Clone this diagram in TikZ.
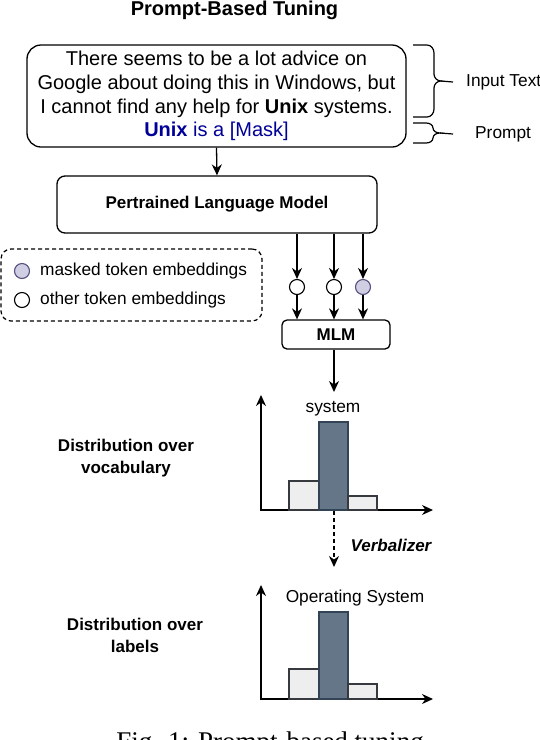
\documentclass[tikz,border=0pt]{standalone}
\usepackage{xcolor}
\usepackage{fontspec}
\setmainfont{Liberation Sans}
\newfontfamily\capfont{Liberation Serif}
\usetikzlibrary{arrows.meta,positioning}

\definecolor{promptblue}{RGB}{0,0,153}
\definecolor{barfill}{HTML}{647687}
\definecolor{barline}{HTML}{314354}
\definecolor{lowfill}{HTML}{EEEEEE}
\definecolor{lowline}{HTML}{36393D}
\definecolor{maskfill}{HTML}{D0CEE2}
\definecolor{maskline}{HTML}{56517E}

\begin{document}
\begin{tikzpicture}[x=1pt, y=-1pt,
  txt/.style={font=\fontsize{17.3}{20}\selectfont, inner sep=0pt},
  heading/.style={font=\fontsize{17}{22}\selectfont\bfseries, align=center, inner sep=0pt},
  block/.style={draw, line width=1.3pt, rounded corners=8pt},
  token/.style={circle, draw, line width=1.1pt, minimum size=15pt, inner sep=0pt, fill=white},
  masked/.style={token, fill=maskfill, draw=maskline},
  arr/.style={-{Stealth[length=11pt,width=10pt]}, line width=1.3pt},
  axisline/.style={{Stealth[length=11pt,width=10pt]}-{Stealth[length=11pt,width=10pt]}, line width=1.2pt},
  lowbar/.style={fill=lowfill, draw=lowline, line width=1.7pt},
  topbar/.style={fill=barfill, draw=barline, line width=1.7pt},
  brace/.style={line width=1.2pt},
]
\useasboundingbox (0,0) rectangle (540,740);
\node[font=\fontsize{20}{24}\selectfont\bfseries, anchor=base] (title) at (234.5,15) {Prompt-Based Tuning};
\node[block, rounded corners=14pt, minimum width=379pt, minimum height=102pt, align=center, font=\fontsize{20}{23.7}\selectfont] (input) at (216.5,96)
  {There seems to be a lot advice on\\Google about doing this in Windows, but\\I cannot find any help for \textbf{Unix} systems.\\\textcolor{promptblue}{\textbf{Unix} is a [Mask]}};
% braces on the right
\draw[brace] (413,45) -- (427,45) to[out=0,in=90] (434,53) -- (434,74) to[out=-90,in=180] (441,81)
  to[out=180,in=90] (434,88) -- (434,109) to[out=-90,in=0] (427,117) -- (413,117);
\draw[brace] (413,123) -- (426,123) to[out=0,in=90] (433,128) to[out=-90,in=180] (440,133)
  to[out=180,in=90] (433,138) to[out=-90,in=0] (426,143) -- (413,143);
\node[txt, anchor=west] (inputlbl) at (466,82) {Input Text};
\node[txt, anchor=west] (promptlbl) at (475,134) {Prompt};
\draw[brace] (441,81) -- ([xshift=-13pt]inputlbl.west);
\draw[brace] (440,133) -- ([xshift=-22pt]promptlbl.west);

\node[block, minimum width=320pt, minimum height=57pt, heading] (plm) at (217,204.5) {Pertrained Language Model};
\draw[arr] (input.south) -- (plm.north);

% legend
\node[draw, dashed, dash pattern=on 4pt off 3pt, rounded corners=10pt, line width=1.2pt, minimum width=261pt, minimum height=72pt] (legend) at (131.5,285) {};
\node[masked] (keymask) at (22,271) {};
\node[token] (keyother) at (22,300) {};
\node[txt, anchor=west] (keymasktxt) at (40,271) {masked token embeddings};
\node[txt, anchor=west] (keyothertxt) at (40,300) {other token embeddings};

\node[token] (tok1) at (297,287) {};
\node[token] (tok2) at (334,287) {};
\node[masked] (tok3) at (363,287) {};
\node[block, rounded corners=5pt, minimum width=108pt, minimum height=29pt, heading] (mlm) at (336,334.5) {MLM};
\draw[arr] (tok1 |- plm.south) -- (tok1.north);
\draw[arr] (tok2 |- plm.south) -- (tok2.north);
\draw[arr] (tok3 |- plm.south) -- (tok3.north);
\draw[arr] (tok1.south) -- (tok1 |- mlm.north);
\draw[arr] (tok2.south) -- (tok2 |- mlm.north);
\draw[arr] (tok3.south) -- (tok3 |- mlm.north);
\coordinate (vocabtop) at (334,392);
\draw[arr] (tok2 |- mlm.south) -- (vocabtop);

% vocabulary distribution
\draw[axisline] (261,395) -- (261,510) -- (433,510);
\draw[lowbar] (289,510) rectangle (319,481);
\draw[topbar] (319,510) rectangle (348,422);
\draw[lowbar] (348,510) rectangle (377,496);
\node[txt] (vocablbl) at (333,409) {system};
\node[heading] (vocabname) at (126,458) {Distribution over\\vocabulary};

\coordinate (verbtop) at (334,511);
\coordinate (verbend) at (334,567);
\draw[arr, dashed, dash pattern=on 4pt off 3pt] (verbtop) -- (verbend);
\node[font=\fontsize{17}{20}\selectfont\bfseries\itshape] (verb) at (391,545) {Verbalizer};

% label distribution
\draw[axisline] (261,585) -- (261,699) -- (433,699);
\draw[lowbar] (289,699) rectangle (319,669);
\draw[topbar] (319,699) rectangle (348,612);
\draw[lowbar] (348,699) rectangle (377,684);
\node[txt] (labellbl) at (355,598) {Operating System};
\node[heading] (labelname) at (135,635) {Distribution over\\labels};

\node[font=\capfont\fontsize{27}{30}\selectfont, anchor=base] (caption) at (270,750) {Fig. 1: Prompt-based tuning};
\end{tikzpicture}
\end{document}
